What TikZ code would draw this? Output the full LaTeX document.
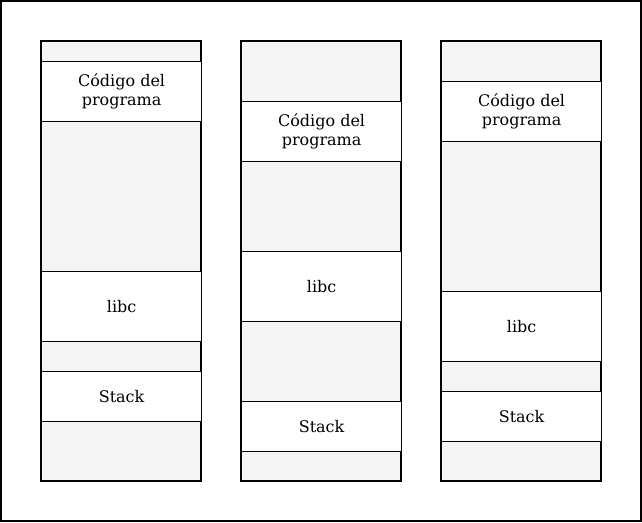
\documentclass[tikz,border=0pt]{standalone}
\usepackage{fontspec}
\setmainfont{DejaVu Serif}
\definecolor{regiongray}{HTML}{F4F4F4}
\tikzset{
  x=1pt, y=-1pt,
  column/.style={draw=black, line width=1.2pt, fill=regiongray},
  seg/.style={draw=black, line width=1.2pt, fill=white, minimum width=160pt, inner sep=0pt, align=center, font=\fontsize{16}{19}\selectfont, anchor=north west},
}
\begin{document}
\begin{tikzpicture}
\useasboundingbox (0,0) rectangle (642,522);
\draw[line width=1.2pt] (1,1) rectangle (641,521);
% column 1
\draw[column] (41,41) rectangle (201,481);
\node[seg, minimum height=60pt] (c1) at (41,61) {Código del\\programa};
\node[seg, minimum height=70pt] (l1) at (41,271) {libc};
\node[seg, minimum height=50pt] (s1) at (41,371) {Stack};
% column 2
\draw[column] (241,41) rectangle (401,481);
\node[seg, minimum height=60pt] (c2) at (241,101) {Código del\\programa};
\node[seg, minimum height=70pt] (l2) at (241,251) {libc};
\node[seg, minimum height=50pt] (s2) at (241,401) {Stack};
% column 3
\draw[column] (441,41) rectangle (601,481);
\node[seg, minimum height=60pt] (c3) at (441,81) {Código del\\programa};
\node[seg, minimum height=70pt] (l3) at (441,291) {libc};
\node[seg, minimum height=50pt] (s3) at (441,391) {Stack};
\end{tikzpicture}
\end{document}
